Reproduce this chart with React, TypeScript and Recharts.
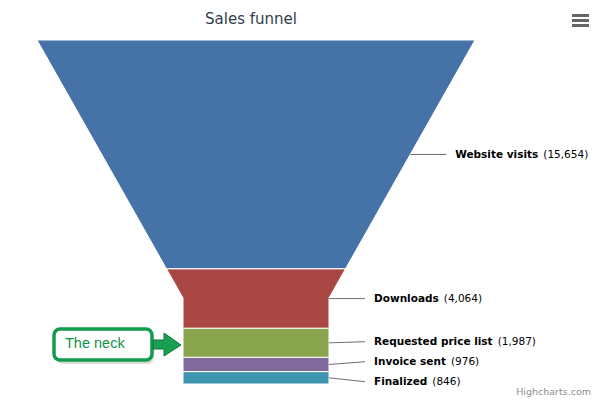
import React from "react";
import { BarChart, Bar, XAxis, YAxis } from "recharts";

const stages = ["Website visits", "Downloads", "Requested price list", "Invoice sent", "Finalized"];
const visitors = [15654, 4064, 1987, 976, 846];
const colors = ["#4572A7", "#AA4643", "#89A54E", "#80699B", "#3D96AE"];

const total = visitors.reduce((a, b) => a + b, 0);
const cum = visitors.map((_, i) => visitors.slice(0, i).reduce((a, b) => a + b, 0));
const seriesKeys = stages.map((_, i) => `s${i}`);
const data = [
  Object.fromEntries([["name", "funnel"], ...seriesKeys.map((k, i) => [k, visitors[i]])]),
];

const NECK_WIDTH = 1 / 3;
const NECK_HEIGHT = 0.25;
const LABEL_DIST = 45;
const LABEL_SPACING = 20;
const FONT = '"DejaVu Sans", Verdana, sans-serif';

// spread labels that would overlap, centred on the mean of their points
function distribute(mids: number[]): number[] {
  let clusters = mids.map((m, i) => ({ idx: [i], mids: [m] }));
  const place = (c: { mids: number[] }) => {
    const n = c.mids.length;
    const mean = c.mids.reduce((a, b) => a + b, 0) / n;
    return c.mids.map((_, k) => mean + (k - (n - 1) / 2) * LABEL_SPACING);
  };
  let merged = true;
  while (merged) {
    merged = false;
    for (let i = 0; i < clusters.length - 1; i++) {
      const a = place(clusters[i]);
      const b = place(clusters[i + 1]);
      if (a[a.length - 1] + LABEL_SPACING > b[0]) {
        clusters.splice(i, 2, {
          idx: [...clusters[i].idx, ...clusters[i + 1].idx],
          mids: [...clusters[i].mids, ...clusters[i + 1].mids],
        });
        merged = true;
        break;
      }
    }
  }
  const out: number[] = [];
  for (const c of clusters) {
    const p = place(c);
    c.idx.forEach((ix, k) => (out[ix] = p[k]));
  }
  return out;
}

const makeShape = (i: number) => (props: any) => {
  let { x, y, width, height } = props;
  if (!height || !width) return null;
  // reversed axis gives negative heights
  if (height < 0) {
    y = y + height;
    height = -height;
  }
  const ppu = height / visitors[i];
  const top = y - cum[i] * ppu;
  const H = total * ppu;
  const neckY = top + (1 - NECK_HEIGHT) * H;
  const cx = x + width / 2;
  const half = (yy: number) => {
    if (yy >= neckY) return (width / 2) * NECK_WIDTH;
    const t = (yy - top) / (neckY - top);
    return width / 2 - (width / 2) * (1 - NECK_WIDTH) * t;
  };
  const y0 = y;
  const y1 = y + height;
  const right: number[][] = [[cx + half(y0), y0]];
  if (neckY > y0 && neckY < y1) right.push([cx + half(neckY), neckY]);
  right.push([cx + half(y1), y1]);
  const left = right.map(([px, py]) => [2 * cx - px, py]).reverse();
  const d = [...right, ...left].map(([px, py], k) => `${k ? "L" : "M"}${px} ${py}`).join(" ") + " Z";

  const mids = visitors.map((v, k) => top + (cum[k] + v / 2) * ppu);
  const labelYs = distribute(mids);
  const my = mids[i];
  const ex = cx + half(my);
  const lx = ex + LABEL_DIST;
  const ly = labelYs[i];

  return (
    <g>
      <path d={d} fill={colors[i]} stroke="#ffffff" strokeWidth={1} />
      <path d={`M${ex} ${my} L${lx - 9} ${ly}`} stroke="#6e6e6e" strokeWidth={1} fill="none" />
      <text x={lx} y={ly} dy="0.35em" fontSize={10.5} fontFamily={FONT} fill="#000">
        <tspan fontWeight="bold">{stages[i]}</tspan>
        <tspan dx={5}>({visitors[i].toLocaleString("en-US")})</tspan>
      </text>
    </g>
  );
};

export default function App() {
  return (
    <div style={{ position: "absolute", left: 0, top: 0, width: 610, height: 404, background: "#fff" }}>
      <BarChart
        width={610}
        height={404}
        data={data}
        margin={{ top: 40, right: 135, bottom: 20, left: 37 }}
        barCategoryGap={0}
        barGap={0}
      >
        <XAxis dataKey="name" type="category" hide />
        <YAxis type="number" domain={[0, total]} reversed hide />
        {seriesKeys.map((k, i) => (
          <Bar key={k} dataKey={k} name={stages[i]} stackId="funnel" fill={colors[i]}
            shape={makeShape(i)} isAnimationActive={false} />
        ))}
      </BarChart>
      <svg width={610} height={404} style={{ position: "absolute", left: 0, top: 0, pointerEvents: "none" }}>
        <text x={251} y={24} textAnchor="middle" fontSize={15} fontFamily={FONT} fill="#333d4c">
          Sales funnel
        </text>
        <g stroke="#666" strokeWidth={3}>
          <line x1={572} x2={589} y1={15.5} y2={15.5} />
          <line x1={572} x2={589} y1={20.5} y2={20.5} />
          <line x1={572} x2={589} y1={25.5} y2={25.5} />
        </g>
        <text x={591} y={395} textAnchor="end" fontSize={9.5} fontFamily={FONT} fill="#909090">
          Highcharts.com
        </text>
        <g>
          <rect x={56} y={332} width={98} height={32} rx={7} fill="#000" opacity={0.15} />
          <rect x={54} y={329} width={98} height={31} rx={6} fill="#fff" stroke="#129a4f" strokeWidth={3.5} />
          <text x={65} y={348} fontSize={14.5} fontFamily='"Liberation Sans", Arial, sans-serif' fill="#0f9449">
            The neck
          </text>
          <path d="M153 340 L164 340 L164 333 L181 345 L164 356 L164 349 L153 349 Z"
            fill="#1a9e52" stroke="#0c7a3b" strokeWidth={1} />
        </g>
      </svg>
    </div>
  );
}
